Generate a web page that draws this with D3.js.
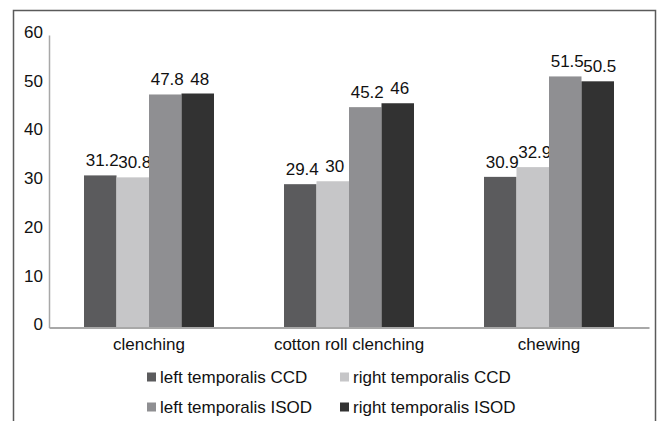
<!DOCTYPE html>
<html>
<head>
<meta charset="utf-8">
<script src="https://cdn.jsdelivr.net/npm/d3@7"></script>
<style>
  body { margin: 0; background: #fff; }
  svg text { font-family: "Liberation Sans", Arial, sans-serif; font-size: 17px; fill: #111; }
</style>
</head>
<body>
<svg id="chart" width="659" height="421"></svg>
<script>
// data
var categories = ['clenching', 'cotton roll clenching', 'chewing']
var series = ['left temporalis CCD', 'right temporalis CCD', 'left temporalis ISOD', 'right temporalis ISOD']
var leftCCD = [31.2, 29.4, 30.9]
var rightCCD = [30.8, 30, 32.9]
var leftISOD = [47.8, 45.2, 51.5]
var rightISOD = [48, 46, 50.5]
var yTicks = [0, 10, 20, 30, 40, 50, 60]

var colors = ['#5b5b5d', '#c6c6c8', '#8f8f92', '#323232']
var values = [leftCCD, rightCCD, leftISOD, rightISOD]

var svg = d3.select('#chart')

// outer frame
svg.append('rect')
  .attr('x', 13.5).attr('y', 10.5)
  .attr('width', 642).attr('height', 430)
  .attr('fill', 'none').attr('stroke', '#5a5a5a').attr('stroke-width', 1.5)

var x0 = d3.scaleBand().domain(categories).range([49, 649])
  .paddingInner(0.35).paddingOuter(0.175)
var x1 = d3.scaleBand().domain(series).range([0, x0.bandwidth()])
var y = d3.scaleLinear().domain([0, 60]).range([327.5, 35])

// y axis
var yAxis = svg.append('g').attr('transform', 'translate(49,0)')
  .call(d3.axisLeft(y).tickValues(yTicks).tickSize(0).tickPadding(6))
yAxis.select('.domain').attr('stroke', '#a8a8a8').attr('stroke-width', 1.5)
yAxis.selectAll('text').attr('dy', '0.14em')
  .style('font-family', '"Liberation Sans", Arial, sans-serif').style('font-size', '17px').attr('fill', '#111')

// bars
var groups = svg.selectAll('.grp').data(categories).enter().append('g')
  .attr('class', 'grp')
  .attr('transform', function(d){ return 'translate(' + x0(d) + ',0)' })

series.forEach(function(s, si){
  groups.append('rect')
    .attr('x', x1(s))
    .attr('y', function(d, i){ return y(values[si][i]) })
    .attr('width', x1.bandwidth())
    .attr('height', function(d, i){ return y(0) - y(values[si][i]) })
    .attr('fill', colors[si])
  groups.append('text')
    .attr('x', x1(s) + x1.bandwidth() / 2 + 2)
    .attr('y', function(d, i){ return y(values[si][i]) - 9 })
    .attr('text-anchor', 'middle')
    .text(function(d, i){ return values[si][i] })
})

// x axis
var xAxis = svg.append('g').attr('transform', 'translate(0,' + y(0) + ')')
  .call(d3.axisBottom(x0).tickSize(0).tickPadding(10))
xAxis.select('.domain').attr('stroke', '#a8a8a8').attr('stroke-width', 2)
xAxis.selectAll('text')
  .style('font-family', '"Liberation Sans", Arial, sans-serif').style('font-size', '17px').attr('fill', '#111')

// legend
var legendPos = [[147, 377], [340, 377], [147, 407], [340, 407]]
var legend = svg.selectAll('.leg').data(series).enter().append('g')
  .attr('class', 'leg')
  .attr('transform', function(d, i){ return 'translate(' + legendPos[i][0] + ',' + legendPos[i][1] + ')' })
legend.append('rect')
  .attr('x', 0).attr('y', -4.5).attr('width', 9).attr('height', 9)
  .attr('fill', function(d, i){ return colors[i] })
legend.append('text')
  .attr('x', 13).attr('y', 6)
  .text(function(d){ return d })
</script>
</body>
</html>
